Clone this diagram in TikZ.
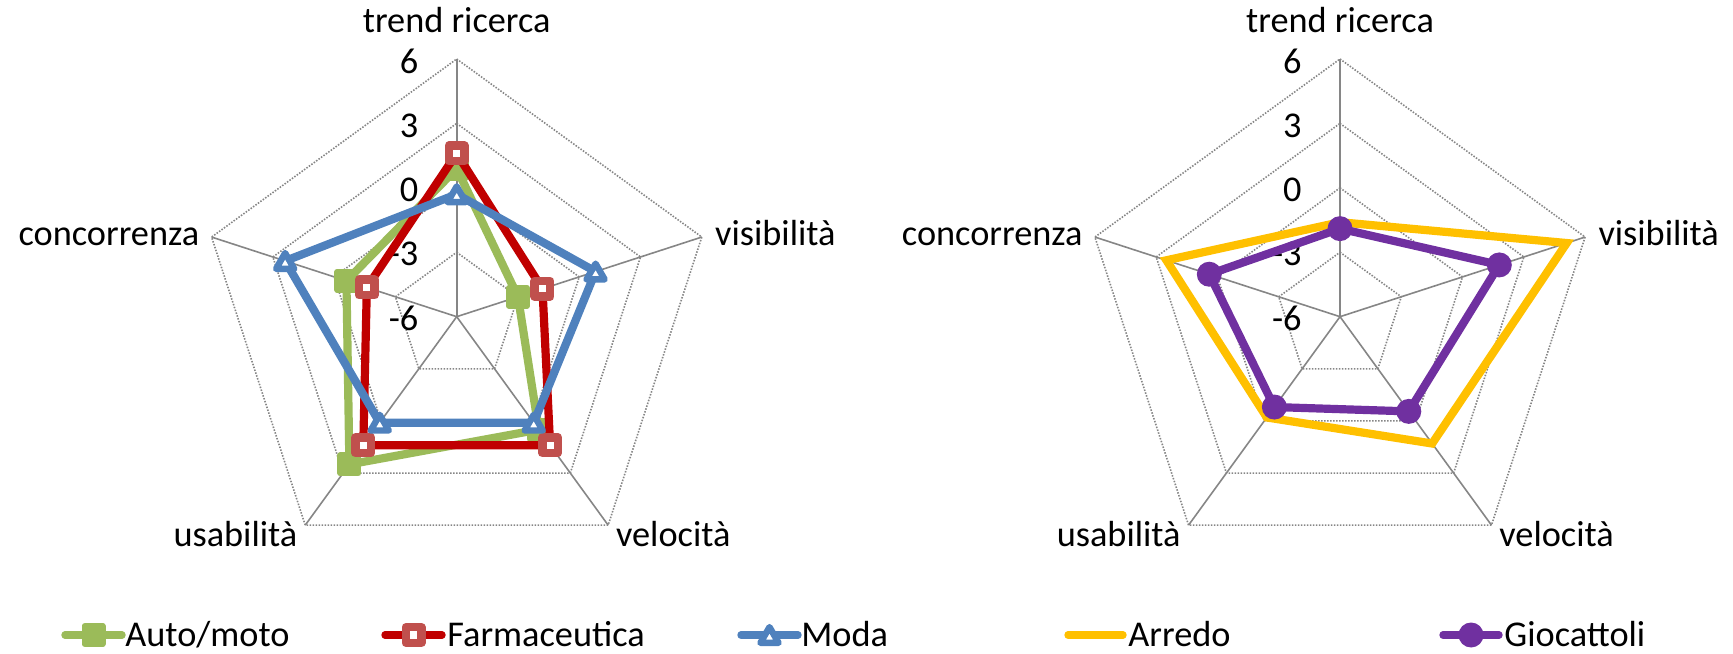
\documentclass[tikz,border=0pt]{standalone}
\usepackage{fontspec}
\setmainfont{Carlito}
\usetikzlibrary{calc,shapes.geometric}
\definecolor{autogreen}{HTML}{9BBB59}
\definecolor{farmared}{HTML}{C00000}
\definecolor{farmaedge}{HTML}{C0504D}
\definecolor{modablue}{HTML}{4F81BD}
\definecolor{arredoyellow}{HTML}{FFC000}
\definecolor{giocopurple}{HTML}{7030A0}
\definecolor{gridgray}{HTML}{868686}
\newcommand{\chartfont}{\fontsize{18.15}{21.8}\selectfont}
\tikzset{
  axisline/.style = {draw=gridgray, line width=0.8pt},
  ringline/.style = {draw=gridgray, line width=0.8pt, dash pattern=on 0.75pt off 0.75pt},
  catlabel/.style = {inner sep=0pt, font=\chartfont},
  ticklabel/.style = {catlabel, anchor=east},
  serieline/.style = {line width=4.1pt},
  legendline/.style = {line width=3.7pt, line cap=round},
  automark/.style = {rectangle, inner sep=0pt, minimum size=9pt, line width=3pt, line join=round, draw=autogreen, fill=autogreen},
  farmamark/.style = {rectangle, inner sep=0pt, minimum size=7.8pt, line width=4.2pt, line join=round, draw=farmaedge, fill=white},
  modamark/.style = {regular polygon, regular polygon sides=3, inner sep=0pt, minimum size=10.5pt, line width=3.2pt, line join=round, draw=modablue, fill=white, yshift=-1.3pt},
  giocomark/.style = {circle, inner sep=0pt, minimum size=12.5pt, fill=giocopurple}
}

\begin{document}
\begin{tikzpicture}[x=0.5pt, y=0.5pt]
  \useasboundingbox (0,0) rectangle (1733,653);
  \coordinate (L) at (456.7,336.3);
  \coordinate (R) at (1340,336.3);
  % grid of both charts
  \foreach \c in {L,R} {
    \foreach \k in {1,...,5}
      \coordinate (\c\k) at ($(\c)+({162-72*\k}:257.7)$);
    \foreach \r in {3,6,9,12}
      \draw[ringline] ($(\c)!{\r/12}!(\c1)$) -- ($(\c)!{\r/12}!(\c2)$) -- ($(\c)!{\r/12}!(\c3)$)
        -- ($(\c)!{\r/12}!(\c4)$) -- ($(\c)!{\r/12}!(\c5)$) -- cycle;
    \foreach \k in {1,...,5}
      \draw[axisline] (\c) -- (\c\k);
    \foreach \v [count=\k] in {-6,-3,0,3,6}
      \node[ticklabel] (\c-tick\k) at ($(\c)+(-38,{(\v+6)*21.475-2})$) {\v};
    \node[catlabel, anchor=base] (\c-trend) at ($(\c1)+(0,26)$) {trend ricerca};
    \node[catlabel, anchor=base west] (\c-visib) at ($(\c2)+(13,-8)$) {visibilità};
    \node[catlabel, anchor=base west] (\c-veloc) at ($(\c3)+(7.5,-21.5)$) {velocità};
    \node[catlabel, anchor=base east] (\c-usab) at ($(\c4)+(-7.5,-21.5)$) {usabilità};
    \node[catlabel, anchor=base east] (\c-conc) at ($(\c5)+(-12,-8)$) {concorrenza};
  }
  % left chart
  \foreach \v [count=\i] in {0.9,-3,0.5,2.5,-0.6}
    \coordinate (auto\i) at ($(L)+({162-72*\i}:{(\v+6)*21.475})$);
  \foreach \v [count=\i] in {1.6,-1.8,1.4,1.4,-1.6}
    \coordinate (farma\i) at ($(L)+({162-72*\i}:{(\v+6)*21.475})$);
  \foreach \v [count=\i] in {-0.3,0.8,0.1,0.1,2.4}
    \coordinate (moda\i) at ($(L)+({162-72*\i}:{(\v+6)*21.475})$);
  \draw[serieline, autogreen] (auto1) -- (auto2) -- (auto3) -- (auto4) -- (auto5) -- cycle;
  \foreach \i in {1,...,5}
    \node[automark] (auto-m\i) at (auto\i) {};
  \draw[serieline, farmared] (farma1) -- (farma2) -- (farma3) -- (farma4) -- (farma5) -- cycle;
  \foreach \i in {1,...,5}
    \node[farmamark] (farma-m\i) at (farma\i) {};
  \draw[serieline, modablue] (moda1) -- (moda2) -- (moda3) -- (moda4) -- (moda5) -- cycle;
  \foreach \i in {1,...,5}
    \node[modamark] (moda-m\i) at (moda\i) {};
  % right chart
  \foreach \v [count=\i] in {-1.6,5.1,1.3,-0.2,2.5}
    \coordinate (arredo\i) at ($(R)+({162-72*\i}:{(\v+6)*21.475})$);
  \foreach \v [count=\i] in {-1.9,1.8,-0.55,-0.8,0.4}
    \coordinate (gioco\i) at ($(R)+({162-72*\i}:{(\v+6)*21.475})$);
  \draw[serieline, arredoyellow] (arredo1) -- (arredo2) -- (arredo3) -- (arredo4) -- (arredo5) -- cycle;
  \draw[serieline, giocopurple] (gioco1) -- (gioco2) -- (gioco3) -- (gioco4) -- (gioco5) -- cycle;
  \foreach \i in {1,...,5}
    \node[giocomark] (gioco-m\i) at (gioco\i) {};
  % legends
  \coordinate (lg-auto-a) at (65,18);    \coordinate (lg-auto-b) at (122,18);
  \coordinate (lg-farma-a) at (385,18);  \coordinate (lg-farma-b) at (442,18);
  \coordinate (lg-moda-a) at (741,18);   \coordinate (lg-moda-b) at (798,18);
  \coordinate (lg-arredo-a) at (1068,18); \coordinate (lg-arredo-b) at (1123,18);
  \coordinate (lg-gioco-a) at (1443,18); \coordinate (lg-gioco-b) at (1499,18);
  \draw[legendline, autogreen] (lg-auto-a) -- (lg-auto-b);
  \node[automark] (lg-auto-m) at ($(lg-auto-a)!0.5!(lg-auto-b)$) {};
  \node[catlabel, anchor=base west] (lg-auto-t) at (125,6.3) {Auto/moto};
  \draw[legendline, farmared] (lg-farma-a) -- (lg-farma-b);
  \node[farmamark] (lg-farma-m) at ($(lg-farma-a)!0.5!(lg-farma-b)$) {};
  \node[catlabel, anchor=base west] (lg-farma-t) at (447,6.3) {Farmaceutica};
  \draw[legendline, modablue] (lg-moda-a) -- (lg-moda-b);
  \node[modamark] (lg-moda-m) at ($(lg-moda-a)!0.5!(lg-moda-b)$) {};
  \node[catlabel, anchor=base west] (lg-moda-t) at (801,6.3) {Moda};
  \draw[legendline, arredoyellow] (lg-arredo-a) -- (lg-arredo-b);
  \node[catlabel, anchor=base west] (lg-arredo-t) at (1128,6.3) {Arredo};
  \draw[legendline, giocopurple] (lg-gioco-a) -- (lg-gioco-b);
  \node[giocomark] (lg-gioco-m) at ($(lg-gioco-a)!0.5!(lg-gioco-b)$) {};
  \node[catlabel, anchor=base west] (lg-gioco-t) at (1504,6.3) {Giocattoli};
\end{tikzpicture}
\end{document}
